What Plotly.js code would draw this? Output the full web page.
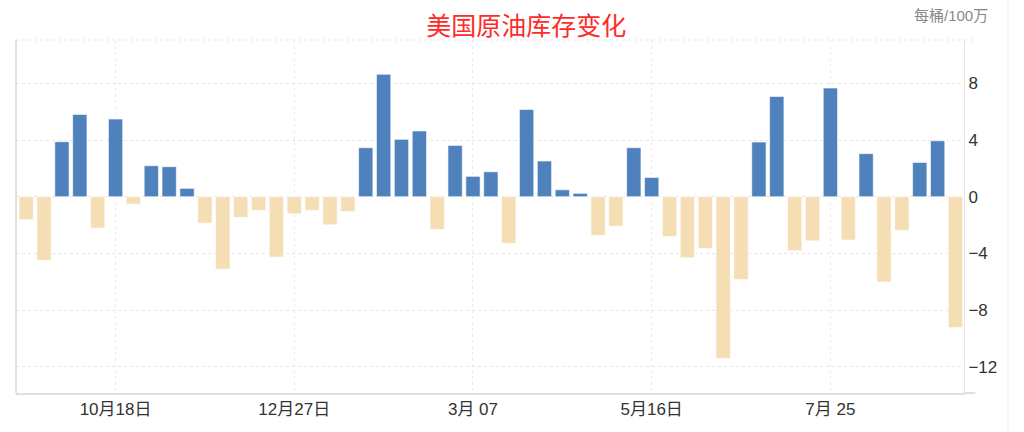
<!DOCTYPE html>
<html>
<head>
<meta charset="utf-8">
<script src="https://cdn.plot.ly/plotly-3.0.1.min.js"></script>
<style>
  html, body { margin: 0; padding: 0; background: #fff; }
  #chart { width: 1024px; height: 432px; }
</style>
</head>
<body>
<div id="chart"></div>
<script>
// weekly report dates (one bar per week)
var weeks = [
    "2018-09-13", "2018-09-20", "2018-09-27", "2018-10-04", "2018-10-11", "2018-10-18",
    "2018-10-25", "2018-11-01", "2018-11-08", "2018-11-15", "2018-11-22", "2018-11-29",
    "2018-12-06", "2018-12-13", "2018-12-20", "2018-12-27", "2019-01-03", "2019-01-10",
    "2019-01-17", "2019-01-24", "2019-01-31", "2019-02-07", "2019-02-14", "2019-02-21",
    "2019-02-28", "2019-03-07", "2019-03-14", "2019-03-21", "2019-03-28", "2019-04-04",
    "2019-04-11", "2019-04-18", "2019-04-25", "2019-05-02", "2019-05-09", "2019-05-16",
    "2019-05-23", "2019-05-30", "2019-06-06", "2019-06-13", "2019-06-20", "2019-06-27",
    "2019-07-04", "2019-07-11", "2019-07-18", "2019-07-25", "2019-08-01", "2019-08-08",
    "2019-08-15", "2019-08-22", "2019-08-29", "2019-09-05", "2019-09-12"
]

// change in crude inventories, million barrels
var change = [
    -1.62, -4.49, 3.88, 5.81, -2.21, 5.48, -0.52, 2.19, 2.12, 0.59,
    -1.86, -5.11, -1.46, -0.96, -4.26, -1.20, -0.96, -1.98, -1.04, 3.46,
    8.64, 4.05, 4.64, -2.31, 3.62, 1.44, 1.76, -3.29, 6.16, 2.52,
    0.49, 0.24, -2.73, -2.07, 3.46, 1.36, -2.80, -4.31, -3.65, -11.41,
    -5.84, 3.86, 7.08, -3.81, -3.11, 7.67, -3.06, 3.04, -6.02, -2.38,
    2.42, 3.95, -9.22
]

var tickDates = ["2018-10-18", "2018-12-27", "2019-03-07", "2019-05-16", "2019-07-25"]
var tickLabels = ["10月18日", "12月27日", "3月 07", "5月16日", "7月 25"]
var yTicks = [-12, -8, -4, 0, 4, 8]

var BLUE = "#4f81bd"
var TAN = "#f5deb3"
var FONT = "Arial, 'Liberation Sans', 'Noto Sans CJK SC', sans-serif"

var barColors = change.map(function (v) { return v >= 0 ? BLUE : TAN })

Plotly.newPlot(
    document.getElementById("chart"),
    [{
        type: "bar",
        x: weeks,
        y: change,
        marker: {
            color: barColors,
            line: { color: "rgba(255,255,255,0.6)", width: 1 },
        },
        hoverinfo: "x+y",
    }],
    {
        width: 1024,
        height: 432,
        margin: {t: 40, l: 16, r: 60, b: 39},
        paper_bgcolor: "#fff",
        plot_bgcolor: "#fff",
        showlegend: false,
        bargap: 0.2,
        font: { family: FONT, size: 14, color: "#333" },
        title: {
            text: "美国原油库存变化",
            font: { family: "'Noto Sans CJK SC', sans-serif", size: 25, color: "#ff2a2a" },
            x: 0.514,
            xanchor: "center",
            y: 0.94,
            yanchor: "middle",
        },
        xaxis: {
            type: "date",
            range: ["2018-09-09", "2019-09-15 08:00"],
            tickmode: "array",
            tickvals: tickDates,
            ticktext: tickLabels,
            showgrid: true,
            gridcolor: "#ebebeb",
            griddash: "dot",
            showline: true,
            linecolor: "#e0e0e0",
            linewidth: 2,
            ticks: "",
            zeroline: false,
            tickfont: { family: FONT, size: 17, color: "#333" },
        },
        yaxis: {
            side: "right",
            range: [-13.85, 11.06],
            tickmode: "array",
            tickvals: yTicks,
            showgrid: true,
            gridcolor: "#e6e6e6",
            griddash: "dot",
            zeroline: false,
            showline: true,
            linecolor: "#e6e6e6",
            linewidth: 1,
            ticks: "",
            tickfont: { family: FONT, size: 17, color: "#333" },
        },
        shapes: [{
            type: "line", xref: "paper", yref: "paper",
            x0: 0, x1: 1.012, y0: 1, y1: 1,
            line: { color: "#e6e6e6", width: 1, dash: "dot" },
        }, {
            type: "line", xref: "paper", yref: "paper",
            x0: 0, x1: 0, y0: 0, y1: 1,
            line: { color: "#e0e0e0", width: 2 },
        }, {
            type: "line", xref: "paper", yref: "paper",
            x0: 1, x1: 1.012, y0: 0, y1: 0,
            line: { color: "#e0e0e0", width: 2 },
        }, {
            type: "line", xref: "paper", yref: "paper",
            x0: 1.0464, x1: 1.0464, y0: -0.11, y1: 1.113,
            line: { color: "#f0f0f0", width: 1 },
        }],
        annotations: [{
            text: "每桶/100万",
            showarrow: false,
            xref: "paper",
            yref: "paper",
            x: 1.027,
            y: 1.07,
            xanchor: "right",
            yanchor: "middle",
            font: { family: FONT, size: 15, color: "#888" },
        }],
    },
    { displayModeBar: false, staticPlot: true }
)
</script>
</body>
</html>
